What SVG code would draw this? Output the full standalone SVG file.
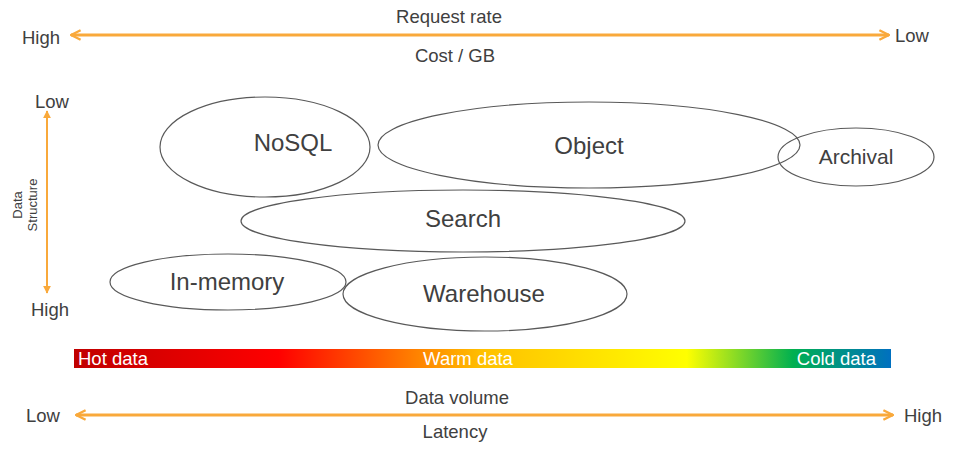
<svg xmlns="http://www.w3.org/2000/svg" width="953" height="454" viewBox="0 0 953 454">
<style>
text{font-family:"Liberation Sans",Arial,sans-serif;fill:#404040}
.lbl{font-size:18.5px}
.node ellipse{fill:none;stroke:#595959;stroke-width:1.2}
.node text{font-size:24px;text-anchor:middle}
.axis{stroke:#f9a93b;fill:none}
.bar{font-size:18.5px;fill:#ffffff}
</style>
<defs>
<linearGradient id="heat" x1="0" y1="0" x2="1" y2="0">
<stop offset="0" stop-color="#c00000"/>
<stop offset="0.25" stop-color="#ff0000"/>
<stop offset="0.5" stop-color="#ffc000"/>
<stop offset="0.75" stop-color="#ffff00"/>
<stop offset="0.88" stop-color="#00b050"/>
<stop offset="1" stop-color="#0070c0"/>
</linearGradient>
<marker id="chev" viewBox="0 0 10 10" refX="9" refY="5" markerWidth="4" markerHeight="4" orient="auto-start-reverse" markerUnits="strokeWidth">
<path d="M1,1 L9,5 L1,9" fill="none" stroke="#f9a93b" stroke-width="2"/>
</marker>
<marker id="tri" viewBox="0 0 10 10" refX="9" refY="5" markerWidth="4" markerHeight="4" orient="auto-start-reverse" markerUnits="strokeWidth">
<path d="M0,0 L10,5 L0,10 z" fill="#f9a93b"/>
</marker>
</defs>
<rect width="953" height="454" fill="#ffffff"/>

<g id="connectors">
<line class="axis" x1="71" y1="35" x2="889" y2="35" stroke-width="3" marker-start="url(#chev)" marker-end="url(#chev)"/>
<line class="axis" x1="47" y1="111" x2="47" y2="293" stroke-width="2" marker-start="url(#tri)" marker-end="url(#tri)"/>
<line class="axis" x1="76" y1="415" x2="893" y2="415" stroke-width="3" marker-start="url(#chev)" marker-end="url(#chev)"/>
</g>

<g id="axis-labels">
<text class="lbl" x="22" y="44">High</text>
<text class="lbl" x="895" y="42">Low</text>
<text class="lbl" x="449" y="23" text-anchor="middle">Request rate</text>
<text class="lbl" x="455" y="62" text-anchor="middle">Cost / GB</text>
<text class="lbl" x="35" y="108">Low</text>
<text class="lbl" x="31" y="316">High</text>
<text font-size="13" text-anchor="middle" transform="translate(22,205) rotate(-90)">Data</text>
<text font-size="13" text-anchor="middle" transform="translate(37,205) rotate(-90)">Structure</text>
<text class="lbl" x="26" y="422">Low</text>
<text class="lbl" x="904" y="422">High</text>
<text class="lbl" x="457" y="404" text-anchor="middle">Data volume</text>
<text class="lbl" x="455" y="438" text-anchor="middle">Latency</text>
</g>

<g id="heat-bar">
<rect x="74" y="349" width="817" height="19" fill="url(#heat)"/>
<text class="bar" x="78" y="365">Hot data</text>
<text class="bar" x="468" y="365" text-anchor="middle">Warm data</text>
<text class="bar" x="876" y="365" text-anchor="end">Cold data</text>
</g>

<g id="nosql" class="node"><ellipse cx="265" cy="147" rx="105" ry="50"/><text x="293" y="151">NoSQL</text></g>
<g id="object" class="node"><ellipse cx="589" cy="145" rx="211" ry="43"/><text x="589" y="154">Object</text></g>
<g id="archival" class="node"><ellipse cx="856" cy="157" rx="78" ry="29"/><text x="856" y="164" style="font-size:21px">Archival</text></g>
<g id="search" class="node"><ellipse cx="463" cy="221" rx="222" ry="31"/><text x="463" y="227">Search</text></g>
<g id="in-memory" class="node"><ellipse cx="228" cy="282" rx="118" ry="28"/><text x="227" y="290">In-memory</text></g>
<g id="warehouse" class="node"><ellipse cx="485" cy="294" rx="142" ry="37"/><text x="484" y="302">Warehouse</text></g>
</svg>
